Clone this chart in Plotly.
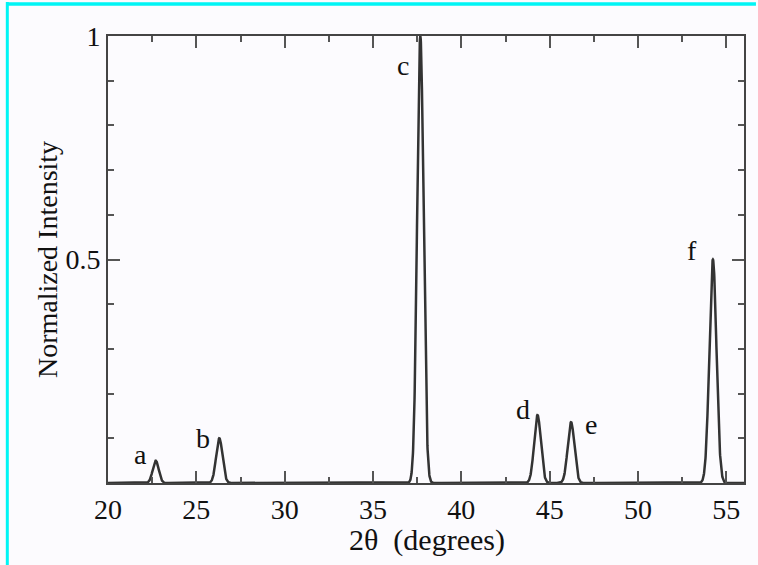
import numpy as np
import plotly.graph_objects as go

# Peak data
peak_labels = ["a", "b", "c", "d", "e", "f"]
peak_centers = [22.7, 26.3, 37.68, 44.31, 46.21, 54.24]
peak_heights = [0.05, 0.10, 1.0, 0.152, 0.136, 0.50]
peak_sigma = [0.17, 0.18, 0.18, 0.19, 0.19, 0.20]
label_x = [21.85, 25.35, 36.7, 43.5, 47.32, 53.05]
label_y = [0.064, 0.10, 0.935, 0.165, 0.13, 0.52]

x_tick_vals = [20, 25, 30, 35, 40, 45, 50, 55]
y_tick_vals = [0, 0.5, 1]
y_tick_text = ["", "0.5", "1"]
x_title = "2θ\u00a0\u00a0(degrees)"
y_title = "Normalized Intensity"

two_theta = np.linspace(20, 56, 3601)
intensity = np.zeros_like(two_theta)
for c, h, s in zip(peak_centers, peak_heights, peak_sigma):
    intensity += h * np.exp(-0.5 * ((two_theta - c) / s) ** 2)

FONT = "Liberation Serif, Times New Roman, serif"
BG = "#fcfbfe"

fig = go.Figure()
fig.add_trace(go.Scatter(x=two_theta, y=intensity, mode="lines",
                         line=dict(color="#333333", width=2.5),
                         hoverinfo="skip", showlegend=False))

for lab, lx, ly in zip(peak_labels, label_x, label_y):
    fig.add_annotation(x=lx, y=ly, text=lab, showarrow=False,
                       font=dict(family=FONT, size=28, color="#111111"))

axis_common = dict(showgrid=False, zeroline=False, showline=True,
                   linecolor="#444444", linewidth=2, mirror="ticks",
                   ticks="inside", tickcolor="#555555", tickwidth=2,
                   tickfont=dict(family=FONT, size=28, color="#111111"))

fig.update_xaxes(range=[20, 56], tickvals=x_tick_vals, ticklen=12,
                 minor=dict(dtick=2.5, tick0=0, ticklen=6, ticks="inside",
                            tickcolor="#555555", tickwidth=2),
                 **axis_common)
fig.update_yaxes(range=[0, 1], tickvals=y_tick_vals, ticktext=y_tick_text,
                 ticklen=12,
                 minor=dict(dtick=0.1, tick0=0, ticklen=6, ticks="inside",
                            tickcolor="#555555", tickwidth=2),
                 title=dict(text=y_title, standoff=0,
                            font=dict(family=FONT, size=28, color="#111111")),
                 **axis_common)

fig.update_layout(width=758, height=565,
                  margin=dict(l=108, r=12, t=36, b=82),
                  paper_bgcolor=BG, plot_bgcolor=BG)

pw = 758 - 108 - 12
ph = 565 - 36 - 82

# x-axis title placed as paper annotation
fig.add_annotation(xref="paper", yref="paper", x=(428 - 108) / pw,
                   y=(565 - 82 - 540) / ph, text=x_title, showarrow=False,
                   xanchor="center", yanchor="middle",
                   font=dict(family=FONT, size=30, color="#111111"))

# Cyan frame (top and left edges), converted from pixel positions
fig.add_shape(type="line", xref="paper", yref="paper",
              x0=(6 - 108) / pw, x1=(758 - 108) / pw,
              y0=(565 - 82 - 4) / ph, y1=(565 - 82 - 4) / ph,
              line=dict(color="#00f5f5", width=3.5))
fig.add_shape(type="line", xref="paper", yref="paper",
              x0=(7 - 108) / pw, x1=(7 - 108) / pw,
              y0=(565 - 82 - 2) / ph, y1=(-82 - 5) / ph,
              line=dict(color="#00f5f5", width=3))

fig.write_html("out.html", config={"displayModeBar": False},
               post_script="document.body.style.margin='0';document.body.style.background='%s';" % BG)
